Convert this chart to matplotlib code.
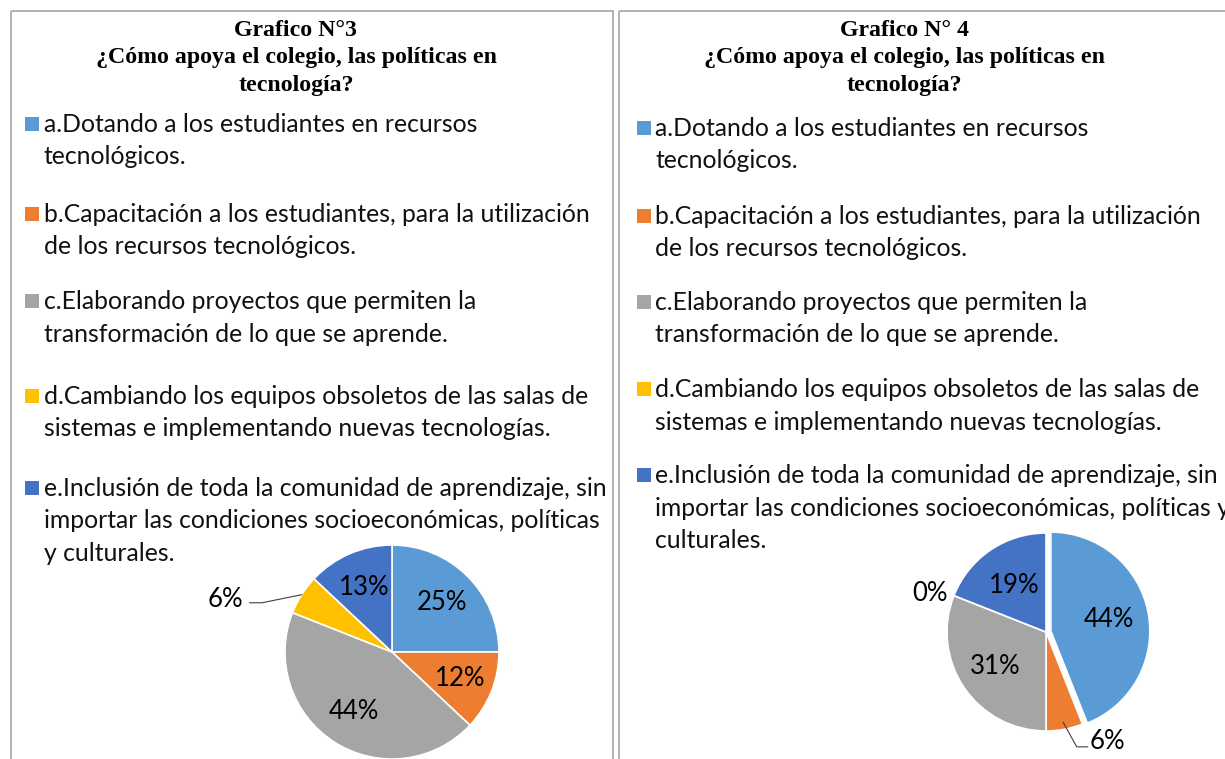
import numpy as np
import matplotlib.pyplot as plt
from matplotlib.patches import Rectangle

W, H = 1225, 759

colores = ['#5B9BD5', '#ED7D31', '#A5A5A5', '#FFC000', '#4472C4']

titulo_g3 = 'Grafico N°3\n¿Cómo apoya el colegio, las políticas en\ntecnología?'
titulo_g4 = 'Grafico N° 4\n¿Cómo apoya el colegio, las políticas en\ntecnología?'

etiquetas_g3 = [
    'a.Dotando a los estudiantes en recursos\ntecnológicos.',
    'b.Capacitación a los estudiantes, para la utilización\nde los recursos tecnológicos.',
    'c.Elaborando proyectos que permiten la\ntransformación de lo que se aprende.',
    'd.Cambiando los equipos obsoletos de las salas de\nsistemas e implementando nuevas tecnologías.',
    'e.Inclusión de toda la comunidad de aprendizaje, sin\nimportar las condiciones socioeconómicas, políticas\ny culturales.',
]
etiquetas_g4 = [
    'a.Dotando a los estudiantes en recursos\ntecnológicos.',
    'b.Capacitación a los estudiantes, para la utilización\nde los recursos tecnológicos.',
    'c.Elaborando proyectos que permiten la\ntransformación de lo que se aprende.',
    'd.Cambiando los equipos obsoletos de las salas de\nsistemas e implementando nuevas tecnologías.',
    'e.Inclusión de toda la comunidad de aprendizaje, sin\nimportar las condiciones socioeconómicas, políticas y\nculturales.',
]

valores_g3 = [25, 12, 44, 6, 13]
valores_g4 = [44, 6, 31, 0, 19]

FUENTE = 'Lato'
TAM = 17.8
TAM_PCT = 18.5

fig = plt.figure(figsize=(W / 100, H / 100), dpi=100)
ax = fig.add_axes([0, 0, 1, 1])
ax.set_xlim(0, W)
ax.set_ylim(H, 0)
ax.axis('off')


def panel(x0, ancho, titulo, etiquetas, bases, dx_cuadro, dx_texto):
    ax.add_patch(Rectangle((x0, 11), ancho, 900, fill=False, edgecolor='#a6a6a6', lw=1.2))
    for k, linea in enumerate(titulo.split('\n')):
        ax.text(x0 + 285, 31 + k * 27, linea, ha='center', va='center',
                family='Liberation Serif', weight='bold', fontsize=17.2)
    for i, (lab, b) in enumerate(zip(etiquetas, bases)):
        ax.add_patch(Rectangle((x0 + dx_cuadro, b - 15), 14, 14, color=colores[i], lw=0))
        for k, linea in enumerate(lab.split('\n')):
            ax.text(x0 + dx_texto, b + k * 32.5, linea, ha='left', va='baseline',
                    family=FUENTE, fontsize=TAM, color='#111111')


panel(11, 602, titulo_g3, etiquetas_g3, [132, 222, 309, 404, 496], 14, 33)
panel(619, 900, titulo_g4, etiquetas_g4, [136, 224, 310, 397, 483], 18, 36)


def pastel(cx, cy, R, valores, explode, dist, fuera):
    M = 220
    pax = fig.add_axes([(cx - M) / W, (H - cy - M) / H, 2 * M / W, 2 * M / H])
    cunas, _ = pax.pie(valores, colors=colores, startangle=90, counterclock=False,
                       explode=explode, wedgeprops=dict(edgecolor='white', linewidth=1.2))
    lim = M / R
    pax.set_xlim(-lim, lim)
    pax.set_ylim(-lim, lim)
    pax.axis('off')
    for i, (c, v) in enumerate(zip(cunas, valores)):
        ang = np.deg2rad((c.theta1 + c.theta2) / 2)
        ccx, ccy = c.center
        if i in fuera:
            tx, ty, ha, linea = fuera[i]
            pax.text(tx, ty, f'{v}%', ha=ha, va='center', family=FUENTE, fontsize=TAM_PCT)
            if linea:
                r0 = linea[0]
                p0 = (ccx + r0 * np.cos(ang), ccy + r0 * np.sin(ang))
                fin = (tx + linea[1], ty + linea[2])
                codo = (fin[0] + linea[3], fin[1])
                pax.plot([p0[0], codo[0], fin[0]], [p0[1], codo[1], fin[1]],
                         color='#404040', lw=0.8)
        else:
            pax.text(ccx + dist[i] * np.cos(ang), ccy + dist[i] * np.sin(ang), f'{v}%',
                     ha='center', va='center', family=FUENTE, fontsize=TAM_PCT)


pastel(392, 652, 107, valores_g3, [0, 0, 0, 0, 0], [0.66, 0.68, 0.66, 0, 0.66],
       {3: (-1.39, 0.495, 'right', (1.0, 0.06, -0.035, 0.115))})
pastel(1046, 632, 99, valores_g4, [0.05, 0, 0, 0, 0], [0.6, 0, 0.62, 0, 0.57],
       {1: (0.44, -1.11, 'left', (0.93, -0.02, -0.05, -0.11)),
        3: (-0.99, 0.39, 'right', None)})

fig.savefig('out.png', dpi=100)
